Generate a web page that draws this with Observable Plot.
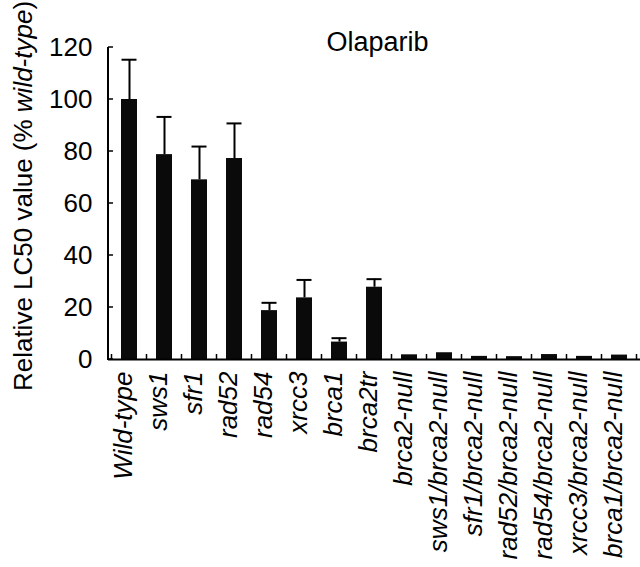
<!DOCTYPE html>
<html>
<head>
<meta charset="utf-8">
<script src="https://cdn.jsdelivr.net/npm/d3@7"></script>
<script src="https://cdn.jsdelivr.net/npm/@observablehq/plot@0.6"></script>
<style>
  html, body { margin: 0; padding: 0; background: #fff; }
  #chart { width: 640px; height: 567px; }
  svg { font-family: "Liberation Sans", Arial, sans-serif; }
</style>
</head>
<body>
<div id="chart"></div>
<script>
const categories = ["Wild-type", "sws1", "sfr1", "rad52", "rad54", "xrcc3", "brca1", "brca2tr",
  "brca2-null", "sws1/brca2-null", "sfr1/brca2-null", "rad52/brca2-null", "rad54/brca2-null",
  "xrcc3/brca2-null", "brca1/brca2-null"];
const values = [100, 78.8, 69.1, 77.3, 18.8, 23.7, 6.7, 27.8, 1.8, 2.6, 1.2, 1.1, 1.9, 1.2, 1.7];
const errors = [15.3, 14.5, 12.8, 13.5, 3.0, 6.9, 1.5, 3.1, 0, 0, 0, 0, 0, 0, 0];
const yTicks = [0, 20, 40, 60, 80, 100, 120];
const titleText = "Olaparib";

const data = categories.map((name, i) => ({name, value: values[i], upper: values[i] + errors[i], err: errors[i]}));
const withErr = data.filter(d => d.err > 0);

const W = 640, H = 567;
const mL = 108, mR = 0, mT = 47, mB = 208;

function axesMark(index, scales, values, dims) {
  const g = d3.create("svg:g").attr("stroke", "#000").attr("fill", "none");
  const x = scales.x, y = scales.y;
  const bw = x.bandwidth ? x.bandwidth() : 16;
  const step = x.step ? x.step() : (dims.width - dims.marginLeft - dims.marginRight) / categories.length;
  const gap = (step - bw) / 2;
  const y0 = y(0);
  const bounds = categories.map(c => x(c) - gap);
  bounds.push(x(categories[categories.length - 1]) + bw + gap);
  for (const b of bounds) {
    g.append("line").attr("x1", b).attr("x2", b).attr("y1", y0).attr("y2", y0 - 5).attr("stroke-width", 1.5);
  }
  g.append("line").attr("x1", dims.marginLeft).attr("x2", dims.marginLeft)
    .attr("y1", y(120)).attr("y2", y0 + 1).attr("stroke-width", 2);
  for (const t of yTicks) {
    g.append("line").attr("x1", dims.marginLeft).attr("x2", dims.marginLeft + 5)
      .attr("y1", y(t)).attr("y2", y(t)).attr("stroke-width", 1.5);
  }
  return g.node();
}

const plot = Plot.plot({
  width: W,
  height: H,
  marginLeft: mL,
  marginRight: mR,
  marginTop: mT,
  marginBottom: mB,
  style: {fontFamily: "'Liberation Sans', Arial, sans-serif", color: "#000", background: "#fff"},
  x: {type: "band", domain: categories, paddingInner: 0.55, paddingOuter: 0.275, align: 0.5},
  y: {domain: [0, 120]},
  marks: [
    Plot.barY(data, {x: "name", y: "value", fill: "#0a0a0a"}),
    Plot.ruleX(withErr, {x: "name", y1: "value", y2: "upper", stroke: "#000", strokeWidth: 2}),
    Plot.tickY(withErr, {x: "name", y: "upper", stroke: "#000", strokeWidth: 2, insetLeft: 0.5, insetRight: 0.5}),
    Plot.ruleY([0], {stroke: "#000", strokeWidth: 2}),
    Plot.axisY({ticks: yTicks, tickSize: 0, tickPadding: 16, fontSize: 26, label: null, tickFormat: d => d}),
    Plot.axisX({tickSize: 0, tickPadding: 12, tickRotate: -90, dx: -6, fontSize: 26, fontStyle: "italic", label: null}),
    Plot.text([titleText], {frameAnchor: "top", lineAnchor: "bottom", dy: 3, dx: 3, fontSize: 27, fill: "#000"}),
    axesMark
  ]
});

const svg = d3.select(plot);
const lbl = svg.append("text")
  .attr("transform", `translate(32, 196) rotate(-90)`)
  .attr("text-anchor", "middle")
  .attr("font-size", 26)
  .attr("fill", "#000")
  .attr("font-family", "'Liberation Sans', Arial, sans-serif");
lbl.append("tspan").text("Relative LC50 value (% ");
lbl.append("tspan").attr("font-style", "italic").text("wild-type");
lbl.append("tspan").text(")");

document.getElementById("chart").appendChild(plot);
</script>
</body>
</html>
